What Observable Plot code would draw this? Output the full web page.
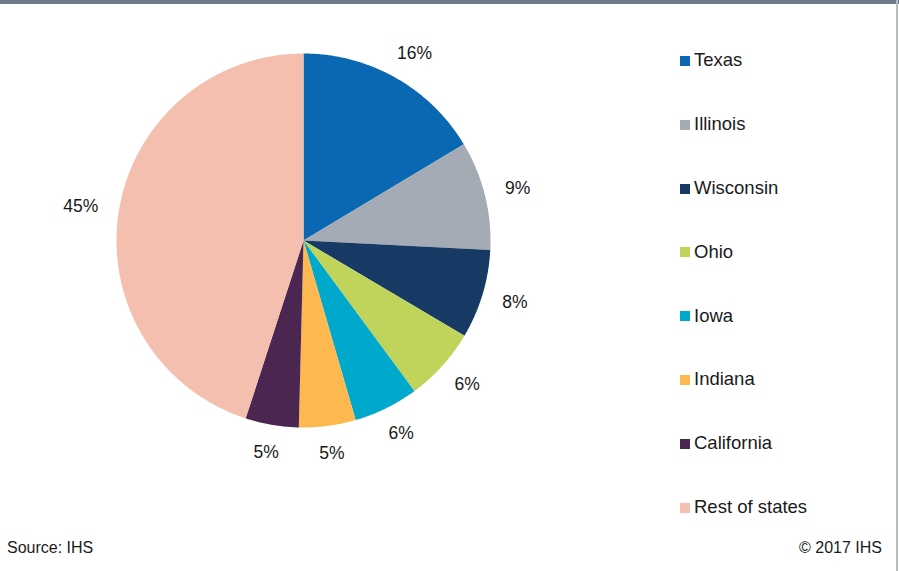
<!DOCTYPE html>
<html>
<head>
<meta charset="utf-8">
<script src="https://cdn.jsdelivr.net/npm/d3@7"></script>
<script src="https://cdn.jsdelivr.net/npm/@observablehq/plot@0.6"></script>
<style>
  html, body { margin: 0; padding: 0; background: #fff; }
  #wrap { position: relative; width: 899px; height: 571px; overflow: hidden; font-family: "Liberation Sans", Arial, sans-serif; color: #1a1a1a; }
  #topbar { position: absolute; left: 0; top: 0; width: 899px; height: 4px; background: #6e7a88; }
  #rightbar { position: absolute; left: 896px; top: 0; width: 2px; height: 571px; background: #b8bcc4; }
  #chart { position: absolute; left: 0; top: 0; }
  #legend { position: absolute; left: 680px; top: 0; }
  .item { position: absolute; left: 0; white-space: nowrap; font-size: 18.5px; line-height: 20px; padding-left: 14px; }
  .sw { position: absolute; left: 0; top: 5.7px; width: 10px; height: 10px; }
  #source { position: absolute; left: 7px; top: 539px; font-size: 16px; line-height: 18px; }
  #copy { position: absolute; right: 17px; top: 539px; font-size: 16px; line-height: 18px; }
</style>
</head>
<body>
<div id="wrap">
  <div id="chart"></div>
  <div id="topbar"></div>
  <div id="rightbar"></div>
  <div id="legend"></div>
  <div id="source">Source: IHS</div>
  <div id="copy">© 2017 IHS</div>
</div>
<script>
const states = ["Texas", "Illinois", "Wisconsin", "Ohio", "Iowa", "Indiana", "California", "Rest of states"];
const shares = [16.4, 9.4, 7.7, 6.4, 5.6, 4.9, 4.6, 45.0];
const colors = ["#0a67b2", "#a4abb4", "#173a64", "#c0d35a", "#00a9cc", "#fdb94f", "#4b2650", "#f4bfae"];

const W = 899, H = 571, cx = 303, cy = 240, R = 187;
const labelFont = 17.5;
const data = states.map((s, i) => ({name: s, value: shares[i]}));
const arcs = d3.pie().sort(null).value(d => d.value)(data);

// polygon outlines of slices in unit-radius coordinates
const pts = [];
arcs.forEach(a => {
  const n = Math.max(2, Math.ceil((a.endAngle - a.startAngle) / 0.01));
  pts.push({name: a.data.name, x: 0, y: 0});
  for (let k = 0; k <= n; k++) {
    const t = a.startAngle + (a.endAngle - a.startAngle) * k / n;
    pts.push({name: a.data.name, x: Math.sin(t), y: Math.cos(t)});
  }
  pts.push({name: a.data.name, x: 0, y: 0});
});

// outside-end labels: the label box sits just outside the rim along the mid angle
const r0 = 208 / R;
const labels = arcs.map(a => {
  const m = (a.startAngle + a.endAngle) / 2;
  const text = Math.round(a.data.value) + "%";
  const w = (text.length - 1) * 0.556 * labelFont + 0.889 * labelFont;
  const h = 14;
  return {
    x: r0 * Math.sin(m) + (w / 2) * Math.sin(m) / R,
    y: r0 * Math.cos(m) + (h / 2) * Math.cos(m) / R,
    text
  };
});

const plot = Plot.plot({
  width: W, height: H,
  margin: 0,
  x: {domain: [-cx / R, (W - cx) / R], axis: null},
  y: {domain: [-(H - cy) / R, cy / R], axis: null},
  color: {domain: states, range: colors},
  style: {fontFamily: "Liberation Sans, Arial, sans-serif", background: "transparent"},
  marks: [
    Plot.line(pts, {x: "x", y: "y", z: "name", fill: "name", stroke: null}),
    Plot.text(labels, {x: "x", y: "y", text: "text", fontSize: labelFont, fill: "#1a1a1a"})
  ]
});
document.getElementById("chart").appendChild(plot);

const leg = document.getElementById("legend");
const firstBaseline = 66.7, rowStep = 63.8;
states.forEach((s, i) => {
  const div = document.createElement("div");
  div.className = "item";
  div.style.top = (firstBaseline + rowStep * i - 16.4) + "px";
  div.innerHTML = `<span class="sw" style="background:${colors[i]}"></span>${s}`;
  leg.appendChild(div);
});
</script>
</body>
</html>
